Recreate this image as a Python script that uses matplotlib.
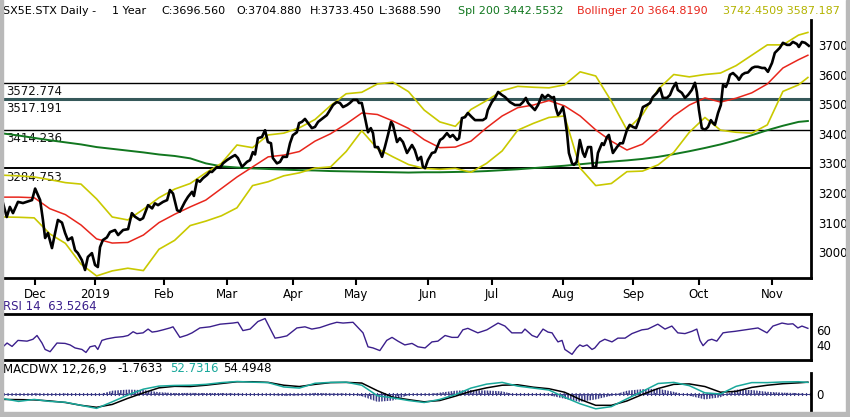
import numpy as np
import matplotlib
matplotlib.use("Agg")
import matplotlib.pyplot as plt
from matplotlib.patches import Rectangle

plt.rcParams['font.family'] = ['DejaVu Sans']
plt.rcParams['hatch.linewidth'] = 1.1

# ---- data (x = trading day index, 0 = first bar) ----
month_days = [10.3, 29.5, 51.6, 71.8, 92.9, 113.1, 136.2, 156.7, 179.5, 201.9, 223.1, 246.5]
month_labels = ["Dec", "2019", "Feb", "Mar", "Apr", "May", "Jun", "Jul", "Aug", "Sep", "Oct", "Nov"]
price_ticks = [3000, 3100, 3200, 3300, 3400, 3500, 3600, 3700]
levels = [3572.774, 3517.191, 3414.236, 3284.753]

price_days = [0, 1.2, 2.2, 3.2, 4.8, 6.4, 9.3, 10.3, 11.9, 12.8, 13.5, 14.4, 15.7, 16.7, 17.6,
              18.9, 19.9, 20.8, 22.1, 23.1, 24.0, 25.3, 26.3, 27.2, 28.5, 29.5, 30.4, 31.1, 32.0,
              33.3, 34.3, 35.9, 36.9, 38.5, 40.1, 41.3, 42.3, 43.9, 44.9, 46.5, 47.8, 48.7, 49.7,
              51.3, 52.6, 53.5, 54.5, 55.8, 56.7, 58.3, 59.3, 60.6, 61.2, 62.2, 63.1, 64.1, 65.4,
              66.3, 67.0, 68.6, 69.6, 70.5, 71.8, 73.4, 74.4, 75.3, 76.6, 78.2, 79.2, 80.1, 80.8,
              81.7, 83.0, 84.0, 84.9, 85.9, 86.5, 87.8, 88.8, 89.7, 91.0, 92.0, 92.9, 94.2, 94.9,
              95.8, 96.8, 97.8, 99.0, 100.0, 101.0, 102.6, 103.8, 104.8, 105.8, 107.0, 108.0,
              109.0, 110.3, 111.2, 112.2, 113.5, 114.1, 115.0, 116.0, 117.0, 117.9, 118.6, 119.2,
              120.2, 121.5, 122.4, 123.4, 124.4, 125.0, 126.3, 127.2, 128.2, 129.5, 130.4, 131.1,
              132.0, 133.0, 134.0, 134.6, 135.3, 136.2, 137.5, 138.5, 140.1, 141.0, 142.3, 143.3,
              144.2, 145.5, 146.2, 147.1, 148.1, 149.0, 150.3, 151.3, 152.9, 153.8, 154.8, 155.4,
              156.7, 157.7, 158.7, 159.9, 160.9, 162.5, 164.1, 165.7, 166.7, 167.6, 168.3, 169.6,
              170.5, 171.5, 172.8, 173.7, 174.7, 176.0, 176.6, 177.2, 177.9, 178.5, 179.5, 180.1,
              180.8, 181.4, 182.4, 183.0, 183.9, 184.9, 185.9, 186.5, 187.5, 188.5, 189.1, 190.1,
              190.7, 192.0, 192.6, 193.6, 194.2, 195.5, 196.8, 197.8, 198.7, 200.0, 200.9, 201.9,
              202.9, 204.2, 205.1, 206.4, 207.4, 208.3, 209.6, 210.6, 211.5, 212.8, 213.8, 214.7,
              215.7, 216.3, 217.6, 218.6, 219.6, 220.8, 221.8, 222.4, 223.1, 224.0, 225.0, 226.0,
              226.9, 227.6, 228.2, 229.2, 230.1, 230.8, 231.7, 232.4, 233.0, 234.0, 235.3, 235.9,
              236.9, 237.8, 238.8, 240.1, 241.0, 242.0, 243.3, 244.2, 245.2, 246.5, 247.4, 249.0,
              250.0, 251.3, 252.2, 253.2, 254.5, 255.1, 256.1, 257.1, 258.3]
price_vals = [3166, 3119, 3153, 3132, 3170, 3166, 3176, 3215, 3176, 3109, 3048, 3065, 3014, 3065, 3109,
              3100, 3065, 3041, 3050, 3007, 2997, 2973, 2940, 2984, 2997, 2957, 2950, 3017, 3041,
              3050, 3068, 3075, 3058, 3075, 3078, 3132, 3120, 3109, 3115, 3159, 3148, 3165, 3159,
              3170, 3176, 3210, 3198, 3142, 3137, 3170, 3187, 3204, 3190, 3244, 3238, 3250, 3261,
              3272, 3271, 3288, 3285, 3300, 3311, 3322, 3328, 3318, 3288, 3305, 3311, 3338, 3330,
              3385, 3389, 3412, 3372, 3368, 3318, 3300, 3305, 3322, 3322, 3368, 3395, 3405, 3436,
              3440, 3450, 3436, 3419, 3423, 3440, 3453, 3463, 3480, 3497, 3507, 3504,
              3490, 3497, 3504, 3514, 3514, 3504, 3504, 3456, 3405, 3419, 3402, 3355,
              3355, 3322, 3355, 3396, 3440, 3430, 3372, 3385, 3372, 3335, 3350, 3362,
              3345, 3311, 3322, 3288, 3284, 3311, 3335, 3338, 3379, 3385, 3402, 3389,
              3396, 3379, 3385, 3453, 3456, 3470, 3456, 3446, 3446, 3446, 3453, 3480,
              3507, 3521, 3541, 3531, 3524, 3507, 3497, 3497, 3507, 3521, 3504, 3490,
              3480, 3497, 3531, 3521, 3531, 3521, 3524, 3487, 3463, 3470, 3490, 3456,
              3402, 3335, 3300, 3295, 3305, 3379, 3335, 3322, 3355, 3355, 3288, 3288,
              3335, 3368, 3362, 3389, 3396, 3335, 3355, 3368, 3368, 3413, 3430, 3423,
              3419, 3456, 3490, 3497, 3504, 3524, 3538, 3554, 3521, 3521, 3531, 3554,
              3572, 3548, 3538, 3521, 3531, 3548, 3572, 3541, 3480, 3419, 3413, 3423,
              3446, 3436, 3430, 3470, 3497, 3565, 3558, 3575, 3599, 3605, 3592, 3582,
              3599, 3605, 3607, 3622, 3626, 3626, 3622, 3622, 3609, 3639, 3673, 3690,
              3707, 3700, 3700, 3710, 3703, 3693, 3710, 3707, 3697]

# smoother studies, read every 5 trading days (last one at day 258)
grid_days = list(range(0, 256, 5)) + [258]
sma200 = [3401, 3394, 3386, 3378, 3371, 3364, 3355, 3349, 3343, 3337, 3330, 3325, 3317, 3300,
          3290, 3286, 3283, 3281, 3279, 3277, 3276, 3274, 3273, 3272, 3271, 3270, 3269, 3270,
          3270, 3271, 3272, 3274, 3277, 3280, 3284, 3288, 3292, 3297, 3302, 3306, 3310, 3315,
          3322, 3331, 3341, 3352, 3364, 3378, 3395, 3412, 3427, 3440, 3443]
bb_mid = [3186, 3186, 3184, 3147, 3127, 3092, 3045, 3031, 3033, 3058, 3100, 3128, 3153, 3176,
          3215, 3254, 3288, 3322, 3328, 3340, 3375, 3400, 3433, 3470, 3465, 3443, 3418, 3380,
          3353, 3355, 3375, 3420, 3460, 3488, 3497, 3512, 3494, 3460, 3413, 3375, 3345, 3365,
          3410, 3460, 3497, 3521, 3507, 3520, 3538, 3568, 3622, 3650, 3665]
bb_up = [3260, 3258, 3254, 3245, 3235, 3230, 3180, 3119, 3109, 3145, 3184, 3213, 3232, 3268,
         3300, 3362, 3353, 3396, 3402, 3420, 3448, 3495, 3535, 3540, 3568, 3574, 3542, 3480,
         3440, 3425, 3482, 3512, 3545, 3560, 3557, 3555, 3565, 3609, 3595, 3510, 3413, 3465,
         3550, 3600, 3592, 3600, 3605, 3630, 3665, 3700, 3700, 3733, 3742]
bb_low = [3119, 3118, 3116, 3062, 3030, 2960, 2920, 2937, 2946, 2938, 3010, 3040, 3090, 3105,
          3123, 3150, 3225, 3238, 3258, 3268, 3284, 3288, 3340, 3410, 3350, 3322, 3296, 3283,
          3280, 3283, 3270, 3300, 3342, 3412, 3435, 3455, 3460, 3284, 3225, 3232, 3272, 3274,
          3295, 3337, 3405, 3455, 3412, 3405, 3402, 3430, 3543, 3565, 3590]

rsi_days = [0, 1.3, 2.9, 4.8, 7.7, 9.6, 10.9, 12.5, 13.5, 15.1, 17.3, 19.9, 21.5, 23.1, 25.3, 26.6,
            27.9, 29.5, 30.4, 31.7, 33.3, 35.9, 38.5, 40.1, 41.7, 42.9, 44.9, 46.5, 47.8, 49.4,
            51.3, 53.5, 54.5, 56.7, 59.0, 60.6, 63.1, 66.3, 69.6, 73.7, 75.3, 76.9, 79.2, 81.7,
            84.0, 84.6, 87.2, 88.8, 91.0, 94.2, 96.8, 99.0, 101.6, 104.8, 107.0, 109.0, 112.2,
            113.8, 115.4, 117.0, 118.6, 120.8, 123.0, 124.7, 126.6, 128.8, 131.1, 133.0, 135.3,
            137.5, 139.4, 141.7, 143.9, 145.8, 147.4, 149.0, 152.2, 155.1, 158.7, 160.9, 163.1,
            166.3, 167.3, 169.6, 171.2, 173.1, 174.7, 176.0, 176.9, 177.9, 179.2, 180.1, 182.4,
            183.9, 184.9, 185.9, 187.2, 188.8, 189.7, 191.3, 192.9, 195.2, 197.1, 199.4, 201.6,
            204.8, 206.7, 209.9, 212.2, 214.4, 216.3, 218.6, 220.8, 222.4, 223.4, 224.4, 226.0,
            227.2, 228.8, 230.8, 232.4, 234.6, 237.8, 242.0, 244.9, 246.8, 249.7, 251.6, 253.2,
            254.8, 256.1, 258.0]
rsi_vals = [37.5, 42.5, 38, 46, 45, 47.5, 52.5, 42.5, 34, 31, 42.5, 42, 40, 36, 34, 30,
            37.5, 39, 34, 46, 48, 50, 51, 52.5, 57.5, 55, 56, 61, 57, 58,
            60, 62.5, 64, 50, 53, 56, 62.5, 64, 67.5, 69, 70, 59, 61, 71,
            75, 70, 49, 50, 52, 62.5, 64, 61, 63, 67.5, 70, 69, 70,
            63, 56, 37.5, 36, 32.5, 46, 50, 45, 40, 42, 37.5, 36,
            44, 45, 52.5, 50, 50, 60, 62, 56, 60, 69, 65, 56,
            56, 61, 52.5, 50, 61, 57, 56, 50, 44, 46, 34, 27.5,
            36, 40, 38, 40, 34, 36, 44, 47.5, 44, 49, 49, 55,
            60, 61, 67.5, 61, 65, 56, 55, 58, 61, 46, 39, 46,
            47.5, 45, 56, 57, 58, 60, 62.5, 56, 65, 69, 67.5, 68,
            62.5, 65, 62]

macd = [-21, -34, -25, -34, -38, -52, -66, -36, -5, 22, 36, 39, 40, 44, 52, 57, 54, 52, 32, 27,
        49, 53, 54, 40, -8, -18, -30, -39, -25, -3, 27, 45, 53, 36, 27, 18, -15, -45, -68, -58,
        -22, 12, 48, 53, 38, 5, 0, 35, 52, 52, 55, 56, 53]
signal = [-25, -26, -27, -32, -39, -52, -61, -48, -20, 5, 28, 35, 34, 40, 48, 56, 56, 53, 40, 34,
          44, 52, 53, 50, 15, -15, -26, -36, -30, -10, 12, 28, 40, 42, 31, 24, 8, -25, -52, -52,
          -32, -2, 25, 44, 46, 34, 8, 12, 30, 40, 47, 51, 54]
hist = [2, -5, 3, -3, 2, -3, -6, 15, 20, 18, 8, 4, 5, 4, 4, 2, -2, -3, -8, -6,
        5, 2, 2, -10, -36, -30, -5, -4, 6, 15, 18, 16, 12, -6, -5, -6, -22, -36, -25, -8,
        15, 22, 24, 10, -8, -25, -15, 20, 18, 10, 6, 4, -2]

# ---- colours ----
YEL = "#c9c900"
RED = "#e8261c"
GRN = "#11771f"
IND = "#3b1f8c"
TEAL = "#19a89b"
NAVY = "#3a3a86"

W, H = 850, 417
fig = plt.figure(figsize=(W / 100, H / 100), dpi=100)
fig.patch.set_facecolor("white")


def fx(px):
    return px / W


def fy(py):
    return 1 - py / H


XL = (0, 259)
left, width = fx(3), (811 - 3) / W

# ---------------- price panel ----------------
ax = fig.add_axes([left, fy(278), width, (278 - 20) / H])
ax.set_xlim(*XL)
ax.set_ylim(2913, 3784)

lev_style = [("black", 1.0), ("#35585a", 2.2), ("black", 1.0), ("black", 1.4)]
for lv, (c, lw) in zip(levels, lev_style):
    ax.axhline(lv, color=c, lw=lw, zorder=2)
    ax.annotate("%.3f" % lv, xy=(0, lv), xytext=(2, -2), textcoords="offset points",
                va="top", ha="left", fontsize=8.5, color="#111111", zorder=1)

ax.plot(grid_days, sma200, color=GRN, lw=1.4, zorder=3)
ax.plot(grid_days, bb_up, color=YEL, lw=1.2, zorder=3)
ax.plot(grid_days, bb_low, color=YEL, lw=1.2, zorder=3)
ax.plot(grid_days, bb_mid, color=RED, lw=1.1, zorder=3)
ax.plot(price_days, price_vals, color="black", lw=1.9, zorder=4)

for s in ["top", "left"]:
    ax.spines[s].set_visible(False)
for s in ["right", "bottom"]:
    ax.spines[s].set_linewidth(2)
ax.yaxis.tick_right()
ax.set_yticks(price_ticks)
ax.tick_params(axis="y", length=0, pad=5, labelsize=8.5)
ax.set_xticks(month_days)
ax.set_xticklabels(month_labels)
ax.tick_params(axis="x", direction="out", length=5, width=1.5, pad=2, labelsize=8.5)

# header line
hdr = [(3, "SX5E.STX Daily -", "black"), (112, "1 Year", "black"),
       (161, "C:3696.560", "black"), (236, "O:3704.880", "black"),
       (310, "H:3733.450", "black"), (379, "L:3688.590", "black"),
       (458, "Spl 200 3442.5532", GRN), (577, "Bollinger 20 3664.8190", RED),
       (723, "3742.4509 3587.187", "#b3b300")]
for px, txt, c in hdr:
    fig.text(fx(px), fy(11), txt, color=c, fontsize=8, va="center", ha="left")

# ---------------- RSI panel ----------------
axr = fig.add_axes([left, fy(360), width, (360 - 314) / H])
axr.set_xlim(*XL)
axr.set_ylim(20, 81)
axr.plot(rsi_days, rsi_vals, color=IND, lw=1.0)
axr.spines["left"].set_visible(False)
for s in ["top", "bottom", "right"]:
    axr.spines[s].set_linewidth(2)
axr.set_xticks([])
axr.yaxis.tick_right()
axr.set_yticks([40, 60])
axr.tick_params(axis="y", length=0, pad=4, labelsize=8.5)
fig.text(fx(3), fy(307), "RSI 14  63.5264", color=IND, fontsize=8.5, va="center", ha="left")

# ---------------- MACD panel ----------------
axm = fig.add_axes([left, fy(411), width, (411 - 373) / H])
axm.set_xlim(*XL)
axm.set_ylim(-78, 96)
axm.fill_between(grid_days, 0, hist, facecolor="none", edgecolor=NAVY, hatch="||||||",
                 linewidth=0, zorder=1)
axm.axhline(0, color=NAVY, lw=2.2, ls=(0, (0.4, 0.9)), zorder=2)
axm.axhline(0, color=NAVY, lw=0.7, zorder=2)
axm.plot(grid_days, signal, color="black", lw=1.1, zorder=3)
axm.plot(grid_days, macd, color=TEAL, lw=1.1, zorder=3)
for s in ["top", "bottom", "left"]:
    axm.spines[s].set_visible(False)
axm.spines["right"].set_linewidth(2)
axm.set_xticks([])
axm.yaxis.tick_right()
axm.set_yticks([0])
axm.tick_params(axis="y", length=0, pad=4, labelsize=8.5)

mhdr = [(3, "MACDWX 12,26,9", "black"), (117, "-1.7633", "black"),
        (170, "52.7316", TEAL), (223, "54.4948", "black")]
for px, txt, c in mhdr:
    fig.text(fx(px), fy(369), txt, color=c, fontsize=8.5, va="center", ha="left")

# window frame (left, right and bottom strips)
frame = "#b9b9b9"
fig.patches.append(Rectangle((0, 0), fx(3), 1, transform=fig.transFigure, color=frame, zorder=10))
fig.patches.append(Rectangle((fx(846), 0), 1 - fx(846), 1, transform=fig.transFigure,
                             color=frame, zorder=10))
fig.patches.append(Rectangle((0, 0), 1, fy(412), transform=fig.transFigure,
                             color=frame, zorder=10))

fig.savefig("out.png", dpi=100)
